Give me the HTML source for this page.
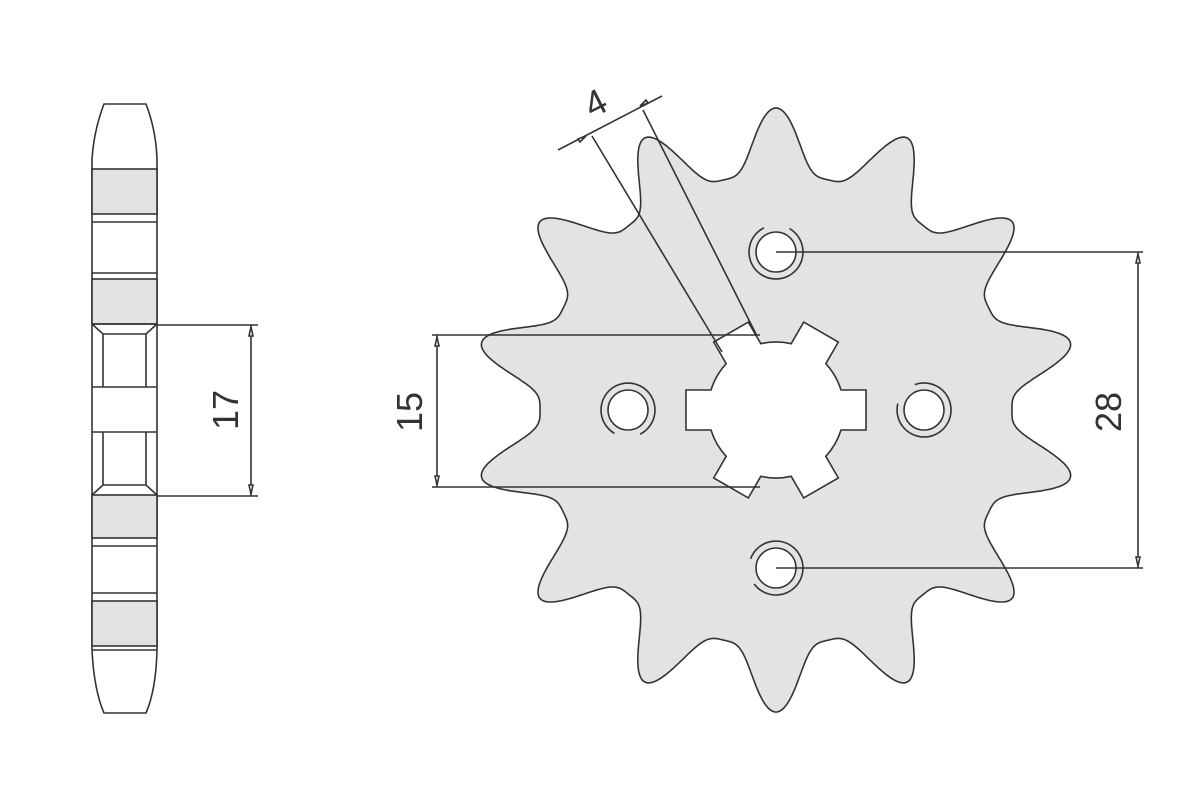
<!DOCTYPE html>
<html><head><meta charset="utf-8"><style>
html,body{margin:0;padding:0;background:#fff;width:1187px;height:800px;overflow:hidden}
svg{display:block}
text{font-family:"Liberation Sans",sans-serif;fill:#333}
</style></head><body>
<svg id="s" width="1187" height="800" viewBox="0 0 1187 800" xmlns="http://www.w3.org/2000/svg">
<g stroke="#333" stroke-width="1.6" fill="none">
<!-- side view -->
<path d="M104,104 L146,104 Q156,130 157,159 L157,650 Q156,690 146,713 L104,713 Q94,690 92,650 L92,159 Q94,130 104,104 Z" fill="#fff"/>
<rect x="92" y="169" width="65" height="45" fill="#e3e3e3"/>
<line x1="92" y1="222" x2="157" y2="222"/>
<line x1="92" y1="273" x2="157" y2="273"/>
<rect x="92" y="279" width="65" height="45" fill="#e3e3e3"/>
<path d="M92,324 L157,324 M92,324 L103,334 L146,334 L157,324 M103,334 L103,387 M146,334 L146,387 M92,387 L157,387 M92,432 L157,432 M103,432 L103,485 M146,432 L146,485 M103,485 L146,485 L157,495 M103,485 L92,495"/>
<rect x="92" y="495" width="65" height="43" fill="#e3e3e3"/>
<line x1="92" y1="546" x2="157" y2="546"/>
<line x1="92" y1="593" x2="157" y2="593"/>
<rect x="92" y="601" width="65" height="45" fill="#e3e3e3"/>
<line x1="92" y1="650" x2="157" y2="650"/>
<!-- 17 dim -->
<path d="M157,325 L258,325 M157,496 L258,496 M251,325 L251,496"/>
<path d="M251,327 l-2,9 h4 z M251,494 l-2,-9 h4 z" fill="#fff"/>
<!-- gear -->
<path id="gear" fill="#e3e3e3" d=""/>
<path id="hub" fill="#fff" d=""/>
<g id="holes"></g>
<!-- 28 dim -->
<path d="M776,252 L1143,252 M776,568 L1143,568 M1138,252 L1138,568"/>
<path d="M1138,254 l-2,9 h4 z M1138,566 l-2,-9 h4 z" fill="#fff"/>
<!-- 15 dim -->
<path d="M432,335 L760,335 M432,487 L760,487 M437,335 L437,487"/>
<path d="M437,337 l-2,9 h4 z M437,485 l-2,-9 h4 z" fill="#fff"/>
<!-- 4 dim -->
<path d="M592,136 L722,352 M643,110 L757,336 M558,150 L662,96"/>
<path d="M578,139 l8,-3 l-6,6 z M648,103 l-8,3 l6,-6 z" fill="#fff"/>
</g>
<text x="0" y="0" font-size="36" transform="translate(238,410) rotate(-90)" text-anchor="middle">17</text>
<text x="0" y="0" font-size="36" transform="translate(422,412) rotate(-90)" text-anchor="middle">15</text>
<text x="0" y="0" font-size="36" transform="translate(1121,412) rotate(-90)" text-anchor="middle">28</text>
<text x="0" y="0" font-size="36" transform="translate(601,114) rotate(-27)" text-anchor="middle">4</text>
</svg>
<script>
var cx=776,cy=410,N=14,Rt=302,Rr=236,d="";
for(var i=0;i<=1400;i++){var t=i/1400*2*Math.PI;var ph=((t/(2*Math.PI))*N)%1;var f=Math.pow((1+Math.cos(2*Math.PI*ph))/2,1.8);
var r=Rr+(Rt-Rr)*f;var a=-Math.PI/2+t;d+=(i?"L":"M")+(cx+r*Math.cos(a)).toFixed(1)+","+(cy+r*Math.sin(a)).toFixed(1);}
document.getElementById("gear").setAttribute("d",d+"Z");
var h="",rc=68,rk=90,hw=20;
for(var k=0;k<6;k++){var a=k*Math.PI/3;var ca=Math.cos(a),sa=Math.sin(a);
function P(u,v){return (cx+u*ca-v*sa).toFixed(1)+","+(cy+u*sa+v*ca).toFixed(1);}
var u0=Math.sqrt(rc*rc-hw*hw);
h+=(k?"L":"M")+P(u0,-hw)+"L"+P(rk,-hw)+"L"+P(rk,hw)+"L"+P(u0,hw);
var a2=a+Math.PI/3;var b1=a+Math.asin(hw/rc),b2=a2-Math.asin(hw/rc);
h+="A"+rc+","+rc+" 0 0 1 "+(cx+rc*Math.cos(b2)).toFixed(1)+","+(cy+rc*Math.sin(b2)).toFixed(1);}
document.getElementById("hub").setAttribute("d",h+"Z");
var H=[[776,252,-60],[776,568,200],[628,410,120],[924,410,-110]],g="";
H.forEach(function(p){var x=p[0],y=p[1],s=p[2]*Math.PI/180,e=s+5.3;
g+='<circle cx="'+x+'" cy="'+y+'" r="20" fill="#fff"/>';
g+='<path d="M'+(x+27*Math.cos(s)).toFixed(1)+','+(y+27*Math.sin(s)).toFixed(1)+' A27,27 0 1 1 '+(x+27*Math.cos(e)).toFixed(1)+','+(y+27*Math.sin(e)).toFixed(1)+'"/>';});
document.getElementById("holes").innerHTML=g;
</script>
</body></html>
